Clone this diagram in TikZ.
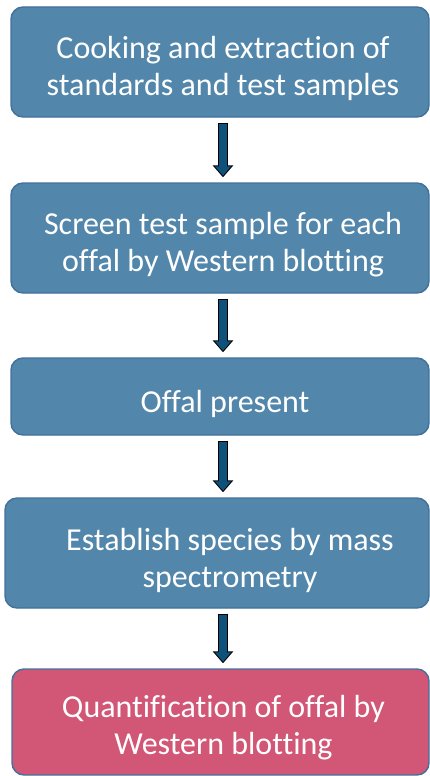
\documentclass[tikz,border=0pt]{standalone}
\usepackage{fontspec}
\setmainfont{Carlito}[Ligatures=NoCommon]
\usetikzlibrary{arrows.meta,positioning}

\definecolor{stepblue}{RGB}{82,135,171}
\definecolor{steppink}{RGB}{210,86,117}
\definecolor{edgeblue}{RGB}{65,113,156}
\definecolor{arrowblue}{RGB}{14,82,124}

\begin{document}
\begin{tikzpicture}[
  x=1pt, y=1pt,
  font=\fontsize{32}{37}\selectfont,
  box/.style={draw=edgeblue, line width=1.4pt, rounded corners=12pt,
              fill=stepblue, inner sep=0pt,
              minimum width=418pt, minimum height=110pt},
  hot/.style={box, fill=steppink},
  words/.style={text=white, align=center, inner sep=0pt},
  flow/.style={draw=black, line width=10pt, shorten <=5pt, shorten >=5pt,
               -{Triangle[width=20pt, length=12pt]},
               postaction={draw=arrowblue, line width=8pt,
                           shorten <=6pt, shorten >=6.6pt,
                           -{Triangle[width=15.7pt, length=9.4pt]}}},
]
\useasboundingbox (0,0) rectangle (430,-776);

% the five steps
\node[box] (cook) at (220,-62) {};
\node[box] (screen) at (220,-238) {};
\node[box, minimum height=77pt] (present) at (220,-396.5) {};
\node[box, minimum width=424pt] (species) at (217,-553) {};
\node[hot, minimum width=417pt, minimum height=106pt] (quant) at (220.5,-722) {};

% their texts sit a little low and right in the boxes
\node[words] (cooktext) at ([xshift=3pt, yshift=-6pt]cook.center) {Cooking and extraction of\\standards and test samples};
\node[words] (screentext) at ([xshift=3pt, yshift=-7pt]screen.center) {Screen test sample for each\\offal by Western blotting};
\node[words] (presenttext) at ([xshift=5pt, yshift=-7pt]present.center) {Offal present};
\node[words] (speciestext) at ([xshift=13pt, yshift=-7.5pt]species.center) {Establish species by mass\\spectrometry};
\node[words] (quanttext) at ([xshift=3pt, yshift=-6pt]quant.center) {Quantification of offal by\\Western blotting};

\draw[flow] (cook.south -| 223,0) -- (screen.north -| 223,0);
\draw[flow] (screen.south -| 223,0) -- (present.north -| 223,0);
\draw[flow] (present.south -| 223,0) -- (species.north -| 223,0);
\draw[flow] (species.south -| 223,0) -- (quant.north -| 223,0);
\end{tikzpicture}
\end{document}
